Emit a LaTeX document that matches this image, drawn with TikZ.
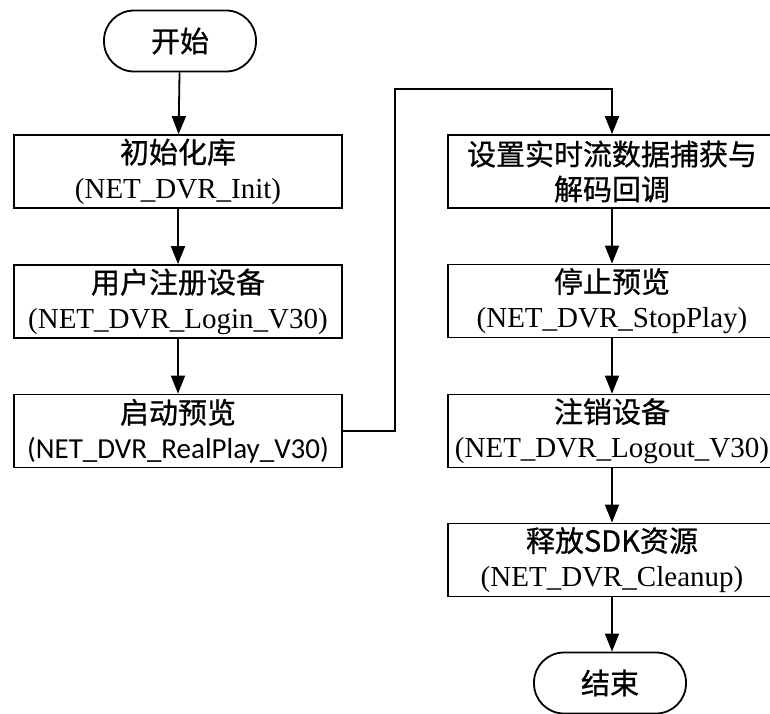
\documentclass[tikz,border=0pt]{standalone}
\usepackage{fontspec}
\setmainfont{Liberation Serif}
\newfontfamily\cjk[FakeBold=0.8]{Noto Sans CJK SC}
\newfontfamily\carlito{Carlito}
\usetikzlibrary{arrows.meta}
\newcommand{\bw}{164pt}
\newcommand{\bh}{36.5pt}

\begin{document}
\begin{tikzpicture}[x=0.5pt,y=-0.5pt,
    line width=0.9pt,
    proc/.style={draw, rectangle, minimum width=\bw, minimum height=\bh, inner sep=0pt, align=center, font=\fontsize{14.5pt}{17.5pt}\selectfont},
    term/.style={draw, rectangle, rounded corners=15pt, minimum width=76pt, minimum height=30.5pt, inner sep=0pt, font=\fontsize{14.5pt}{17.5pt}\selectfont\cjk},
    flow/.style={-{Triangle[length=9pt,width=7pt]}}]
    \useasboundingbox (0,0) rectangle (770,713);
    \clip (0,0) rectangle (770,713);

    % left column
    \node[term] (start) at (180,41) {开始};
    \node[proc] (init) at (178,171.5) {{\cjk 初始化库}\\(NET\_DVR\_Init)};
    \node[proc] (login) at (178,301.5) {{\cjk 用户注册设备}\\(NET\_DVR\_Login\_V30)};
    \node[proc] (play) at (178,431) {{\cjk 启动预览}\\{\carlito (NET\_DVR\_RealPlay\_V30)}};

    % right column
    \node[proc] (cb) at (612,171.5) {{\cjk 设置实时流数据捕获与}\\{\cjk 解码回调}};
    \node[proc] (stop) at (612,301) {{\cjk 停止预览}\\(NET\_DVR\_StopPlay)};
    \node[proc] (logout) at (612,431) {{\cjk 注销设备}\\(NET\_DVR\_Logout\_V30)};
    \node[proc] (clean) at (612,560) {{\cjk 释放SDK资源}\\(NET\_DVR\_Cleanup)};
    \node[term] (end) at (610,683) {结束};

    \coordinate (turn) at (395,89);

    \draw[flow] (start) -- (init);
    \draw[flow] (init) -- (login);
    \draw[flow] (login) -- (play);
    \draw[flow] (play.east) -| (turn) -| (cb.north);
    \draw[flow] (cb) -- (stop);
    \draw[flow] (stop) -- (logout);
    \draw[flow] (logout) -- (clean);
    \draw[flow] (clean.south) -- (clean.south |- end.north);
\end{tikzpicture}
\end{document}
